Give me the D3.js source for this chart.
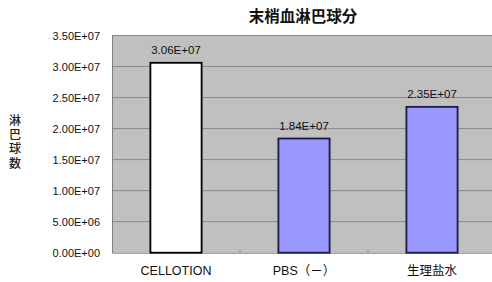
<!DOCTYPE html>
<html>
<head>
<meta charset="utf-8">
<script src="https://cdn.jsdelivr.net/npm/d3@7/dist/d3.min.js"></script>
<style>
  html, body { margin: 0; padding: 0; background: #fff; }
  svg { display: block; font-family: "Liberation Sans", Arial, sans-serif; }
</style>
</head>
<body>
<div id="chart"></div>
<script>
const width = 492;
const height = 282;

// Data
const categories = ["CELLOTION", "PBS（－）", "生理盐水"];
const values = [3.06e7, 1.84e7, 2.35e7];
const valueLabels = ["3.06E+07", "1.84E+07", "2.35E+07"];
const yTicks = [0, 5e6, 1e7, 1.5e7, 2e7, 2.5e7, 3e7, 3.5e7];
const yTickLabels = ["0.00E+00", "5.00E+06", "1.00E+07", "1.50E+07", "2.00E+07", "2.50E+07", "3.00E+07", "3.50E+07"];
const barFills = ["#ffffff", "#9999ff", "#9999ff"];
const barStrokes = ["#000000", "#1a1a40", "#1a1a40"];

// Plot area (right side runs off the picture)
const plotLeft = 112, plotRight = 496, plotTop = 35.5, plotBottom = 252.7;

const x = d3.scaleBand()
    .domain(categories)
    .range([plotLeft, plotRight])
    .paddingInner(0.6)
    .paddingOuter(0.3);

const y = d3.scaleLinear()
    .domain([0, 3.5e7])
    .range([plotBottom, plotTop]);

const svg = d3.select("#chart")
    .append("svg")
    .attr("width", width)
    .attr("height", height)
    .attr("viewBox", [0, 0, width, height]);

// Plot background
svg.append("rect")
    .attr("x", plotLeft)
    .attr("y", plotTop)
    .attr("width", plotRight - plotLeft)
    .attr("height", plotBottom - plotTop)
    .attr("fill", "#c0c0c0");

// Gridlines
svg.append("g")
    .selectAll("line")
    .data(yTicks.slice(1))
    .join("line")
    .attr("x1", plotLeft)
    .attr("x2", plotRight)
    .attr("y1", d => y(d))
    .attr("y2", d => y(d))
    .attr("stroke", "#8a8a8a")
    .attr("stroke-width", 1);

// Y axis
const yAxis = svg.append("g")
    .attr("transform", `translate(${plotLeft},0)`)
    .call(d3.axisLeft(y)
        .tickValues(yTicks)
        .tickFormat((d, i) => yTickLabels[i])
        .tickSize(0)
        .tickPadding(12));
yAxis.select(".domain").attr("stroke", "#808080");
yAxis.selectAll("text")
    .attr("font-size", 11)
    .attr("fill", "#111")
    .attr("font-family", "'Liberation Sans', Arial, sans-serif");

// X axis
const xAxis = svg.append("g")
    .attr("transform", `translate(0,${plotBottom})`)
    .call(d3.axisBottom(x).tickSize(0).tickPadding(13));
xAxis.select(".domain").attr("stroke", "#808080");
xAxis.selectAll("text")
    .attr("font-size", 12.5)
    .attr("fill", "#111")
    .attr("font-family", "'Liberation Sans', 'Noto Sans CJK JP', sans-serif");

// Category separators on the x axis
svg.append("g")
    .selectAll("line")
    .data(categories.slice(1))
    .join("line")
    .attr("x1", d => x(d) - x.step() * x.paddingInner() / 2)
    .attr("x2", d => x(d) - x.step() * x.paddingInner() / 2)
    .attr("y1", plotBottom - 3)
    .attr("y2", plotBottom)
    .attr("stroke", "#808080");

// Bars
svg.append("g")
    .selectAll("rect")
    .data(values)
    .join("rect")
    .attr("x", (d, i) => x(categories[i]))
    .attr("y", d => y(d))
    .attr("width", x.bandwidth())
    .attr("height", d => plotBottom - y(d))
    .attr("fill", (d, i) => barFills[i])
    .attr("stroke", (d, i) => barStrokes[i])
    .attr("stroke-width", 1.8);

// Value labels
svg.append("g")
    .selectAll("text")
    .data(values)
    .join("text")
    .attr("x", (d, i) => x(categories[i]) + x.bandwidth() / 2)
    .attr("y", d => y(d) - 9)
    .attr("text-anchor", "middle")
    .attr("font-size", 11.5)
    .attr("fill", "#111")
    .text((d, i) => valueLabels[i]);

// Title
svg.append("text")
    .attr("x", 303)
    .attr("y", 22)
    .attr("text-anchor", "middle")
    .attr("font-size", 15.5)
    .attr("font-weight", "bold")
    .attr("font-family", "'Noto Sans CJK JP', sans-serif")
    .attr("fill", "#111")
    .text("末梢血淋巴球分");

// Vertical y label (stacked characters)
svg.append("text")
    .attr("x", 15)
    .attr("y", 114)
    .style("writing-mode", "vertical-rl")
    .style("text-orientation", "upright")
    .attr("letter-spacing", 2.4)
    .attr("font-size", 12)
    .attr("font-weight", 500)
    .attr("font-family", "'Noto Sans CJK JP', sans-serif")
    .attr("fill", "#222")
    .text("淋巴球数");
</script>
</body>
</html>
